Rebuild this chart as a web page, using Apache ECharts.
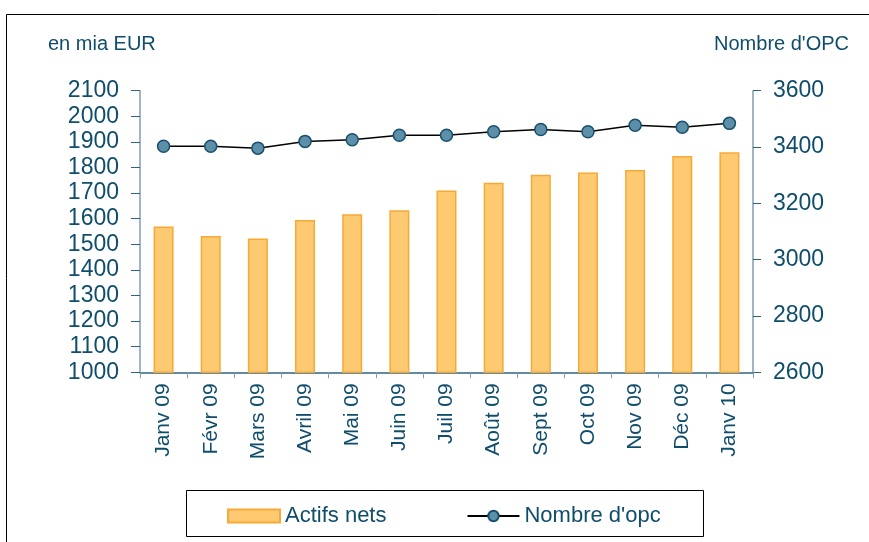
<!DOCTYPE html>
<html><head><meta charset="utf-8">
<script src="https://cdn.jsdelivr.net/npm/echarts@6/dist/echarts.min.js"></script>
<style>html,body{margin:0;padding:0;background:#fff}#c{width:869px;height:542px}</style>
</head><body><div id="c"></div>
<script>
var categories = ['Janv 09','Févr 09','Mars 09','Avril 09','Mai 09','Juin 09','Juil 09','Août 09','Sept 09','Oct 09','Nov 09','Déc 09','Janv 10'];
var actifsNets = [1570, 1532, 1523, 1595, 1617, 1633, 1710, 1740, 1772, 1780, 1790, 1845, 1860];
var nombreOpc = [3403, 3403, 3396, 3420, 3426, 3442, 3442, 3454, 3462, 3454, 3477, 3470, 3484];
var leftTitle = 'en mia EUR';
var rightTitle = "Nombre d'OPC";
var txt = '#0f4d6c';
var font = 'Liberation Sans, Arial, sans-serif';
var chart = echarts.init(document.getElementById('c'));
chart.setOption({
  animation: false,
  textStyle: {fontFamily: font},
  grid: {left: 140, right: 116, top: 90.7, bottom: 169.7},
  legend: {
    left: 222, top: 500, itemGap: 80, itemWidth: 52, itemHeight: 13,
    textStyle: {color: txt, fontSize: 22, fontFamily: font},
    data: [
      {name: 'Actifs nets', icon: 'rect'},
      {name: "Nombre d'opc"}
    ]
  },
  graphic: [
    {type: 'rect', shape: {x: 6.5, y: 14.5, width: 900, height: 600}, style: {fill: 'none', stroke: '#000', lineWidth: 1}, z: -1},
    {type: 'rect', shape: {x: 186.5, y: 490.5, width: 517, height: 46}, style: {fill: 'none', stroke: '#000', lineWidth: 1}},
    {type: 'text', left: 48, top: 34, style: {text: leftTitle, fill: txt, fontSize: 20, fontFamily: font}},
    {type: 'text', right: 20, top: 34, style: {text: rightTitle, fill: txt, fontSize: 20, fontFamily: font}}
  ],
  xAxis: {
    type: 'category', data: categories,
    axisLine: {lineStyle: {color: '#2f6481', width: 1.5}},
    axisTick: {show: true, length: 6, alignWithLabel: false, lineStyle: {color: '#7f9fb1'}},
    axisLabel: {rotate: 90, color: txt, fontSize: 21, margin: 11, fontFamily: font}
  },
  yAxis: [
    {type: 'value', min: 1000, max: 2100, interval: 100,
     splitLine: {show: false},
     axisLine: {show: true, lineStyle: {color: '#7f9fb1', width: 1.5}},
     axisTick: {show: true, length: 9, lineStyle: {color: '#2f6481'}},
     axisLabel: {color: txt, fontSize: 23, margin: 21, fontFamily: font, formatter: function (v) { return String(v); }}},
    {type: 'value', min: 2600, max: 3600, interval: 200, position: 'right',
     splitLine: {show: false},
     axisLine: {show: true, lineStyle: {color: '#7f9fb1', width: 1.5}},
     axisTick: {show: true, length: 8, lineStyle: {color: '#2f6481'}},
     axisLabel: {color: txt, fontSize: 23, margin: 20, fontFamily: font, formatter: function (v) { return String(v); }}}
  ],
  series: [
    {name: 'Actifs nets', type: 'bar', data: actifsNets, yAxisIndex: 0, barWidth: 20,
     itemStyle: {color: '#fdc971', borderColor: '#f8a935', borderWidth: 1.5}},
    {name: "Nombre d'opc", type: 'line', data: nombreOpc, yAxisIndex: 1,
     symbol: 'circle', symbolSize: 12,
     lineStyle: {color: '#000', width: 1.5},
     itemStyle: {color: '#5d8fa9', borderColor: '#17506d', borderWidth: 1.5}}
  ]
});
</script></body></html>
